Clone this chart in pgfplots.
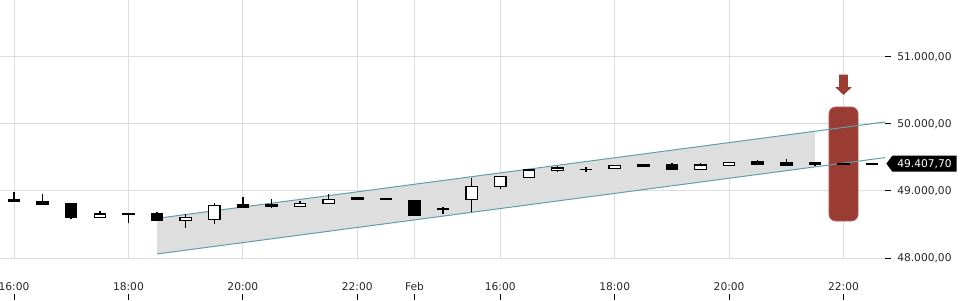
\documentclass[border=0pt]{standalone}
\usepackage{pgfplots}
\pgfplotsset{compat=1.18}
\usepackage{pgfplotstable}
\usepackage{fontspec}
\setmainfont{DejaVu Sans}
\usetikzlibrary{shapes.symbols}
\definecolor{gridc}{RGB}{221,221,221}
\definecolor{chan}{RGB}{222,222,222}
\definecolor{tealc}{RGB}{95,160,166}
\definecolor{redc}{RGB}{154,60,52}

\pgfplotstableread{
i o h l c
0 48876 48981 48840 48845
1 48846 48951 48796 48796
2 48806 48806 48582 48601
3 48601 48697 48601 48657
4 48662 48672 48527 48660
5 48661 48682 48557 48557
6 48557 48657 48452 48607
7 48572 48821 48512 48787
8 48791 48910 48761 48761
9 48791 48881 48751 48766
10 48766 48851 48766 48816
11 48816 48955 48816 48876
12 48896 48898 48870 48871
13 48881 48883 48879 48881
14 48851 48851 48631 48631
15 48731 48766 48657 48733
16 48876 49198 48687 49070
17 49064 49229 49030 49219
18 49198 49328 49198 49313
19 49309 49378 49288 49343
20 49322 49353 49283 49324
21 49336 49393 49336 49376
22 49393 49408 49363 49363
23 49388 49418 49318 49318
24 49323 49418 49323 49388
25 49383 49433 49383 49428
26 49433 49463 49393 49393
27 49418 49473 49373 49388
28 49418 49438 49373 49393
29 49405 49407 49403 49405
30 49407 49409 49406 49407.7
}\candles

\begin{document}
\begin{tikzpicture}
\begin{axis}[
  scale only axis, width=663.75pt, height=193.5pt,
  xmin=-0.49, xmax=30.45, ymin=48000, ymax=51850,
  axis x line*=bottom, axis y line*=right,
  axis line style={draw=none},
  no markers,
  xtick={0,4,8,12,14,17,21,25,29},
  xticklabels={16:00,18:00,20:00,22:00,Feb,16:00,18:00,20:00,22:00},
  ytick={48000,49000,50000,51000},
  scaled y ticks=false,
  grid=major, major grid style={gridc, line width=0.75pt},
  tick align=outside, major tick length=4.5pt,
  xtick style={yshift=-27pt, black, line width=0.75pt},
  ytick style={black, line width=0.75pt},
  tick label style={font=\fontsize{8}{9.6}\selectfont, text=black!85},
  xticklabel style={anchor=base, inner sep=0pt, yshift=-20pt},
  yticklabel style={anchor=west, inner sep=0pt, xshift=4.5pt,
    /pgf/number format/fixed, /pgf/number format/fixed zerofill,
    /pgf/number format/precision=2, /pgf/number format/use comma,
    /pgf/number format/1000 sep={.}, /pgf/number format/assume math mode=true},
  yticklabel pos=right,
]
% channel fill
\addplot[fill=chan, draw=none] coordinates {(5,48592) (28,49891) (28,49360) (5,48060)} -- cycle;
% red highlight bar
\addplot[fill=redc, draw=redc!75!white, line width=0.5pt, rounded corners=5pt] coordinates {(28.49,48552) (28.49,50254) (29.51,50254) (29.51,48552)} -- cycle;
% arrow
\addplot[fill=redc, draw=none] coordinates {(28.85,50736) (29.15,50736) (29.15,50548) (29.285,50548) (29,50433) (28.715,50548) (28.85,50548)} -- cycle;
% channel lines
\addplot[tealc, line width=0.75pt] coordinates {(5,48592) (30.45,50030)};
\addplot[tealc, line width=0.75pt] coordinates {(5,48060) (30.45,49498)};
% wicks
\addplot[draw=none, mark=none, error bars/.cd, y dir=both, y explicit, error mark=none,
  error bar style={draw=black, line width=1.1pt}]
  table[x=i, y expr={(\thisrow{h}+\thisrow{l})/2}, y error expr={(\thisrow{h}-\thisrow{l})/2}] {\candles};
% bodies (outer black)
\addplot[draw=none, mark=none, error bars/.cd, y dir=both, y explicit, error mark=none,
  error bar style={draw=black, line width=9.4pt}]
  table[x=i, y expr={(\thisrow{o}+\thisrow{c})/2}, y error expr={abs(\thisrow{o}-\thisrow{c})/2+9}] {\candles};
% bodies (white inner for up candles)
\addplot[draw=none, mark=none, error bars/.cd, y dir=both, y explicit, error mark=none,
  error bar style={draw=white, line width=7.6pt}]
  table[x=i, y expr={(\thisrow{o}+\thisrow{c})/2}, y error expr={(\thisrow{c}>\thisrow{o})*max((\thisrow{c}-\thisrow{o})/2-8,0)}] {\candles};
\coordinate (pl) at (axis cs:30.45,49407.7);
\end{axis}
\node[signal, signal to=west, signal pointer angle=106, fill=black, text=white,
  font=\fontsize{8}{9.6}\selectfont, minimum height=12pt, inner ysep=0pt, inner xsep=3.7pt,
  anchor=west] at ([xshift=0.75pt]pl) {49.407,70\hspace{20pt}};
\pgfresetboundingbox
\useasboundingbox (0,-31.5pt) rectangle (720pt,193.5pt);
\end{tikzpicture}
\end{document}
